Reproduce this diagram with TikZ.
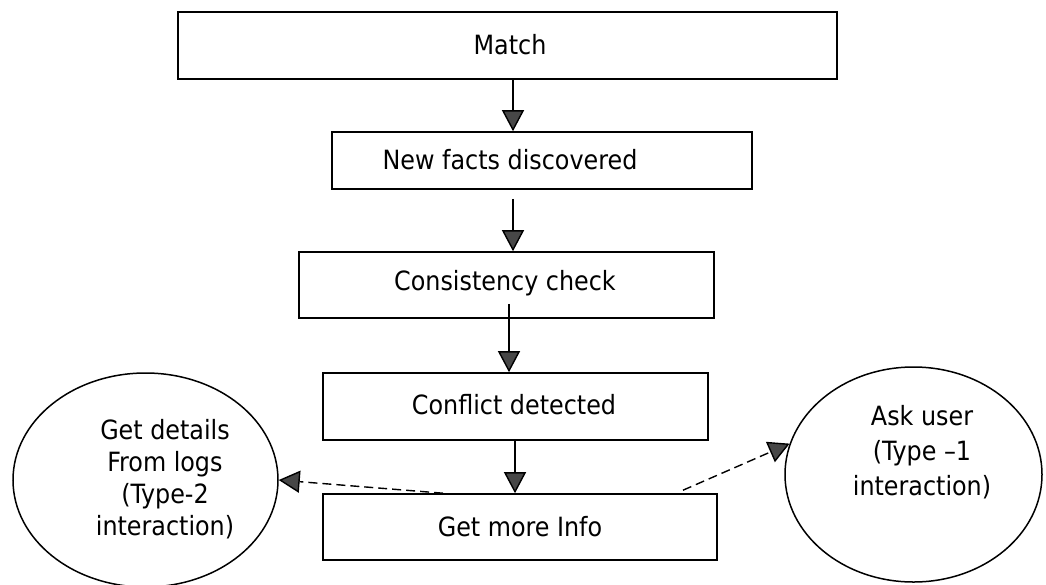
\documentclass[tikz,border=0pt]{standalone}
\usepackage{fontspec}
\setmainfont{DejaVu Sans Condensed}
\usetikzlibrary{arrows.meta,shapes.geometric}

\tikzset{
  box/.style={draw=black, line width=1.6pt, minimum width=#1, inner sep=0pt},
  txt/.style={font=\fontsize{26.5}{32}\selectfont, inner sep=0pt, align=center},
  oval/.style={draw=black, line width=1.5pt, ellipse, inner sep=0pt},
  flow/.style={line width=1.4pt, -{Triangle[width=22pt,length=21pt,fill=black!72]}},
  ask/.style={flow, dash pattern=on 9pt off 5pt},
}

\begin{document}
\begin{tikzpicture}[x=1pt,y=-1pt]
\useasboundingbox (0,0) rectangle (1046,584);

% process boxes
\node[box=659pt, minimum height=67pt] (match) at (507.5,45.5) {};
\node[txt] (matchT) at (510,45) {Match};

\node[box=420pt, minimum height=57pt] (facts) at (542,160.5) {};
\node[txt] (factsT) at (510,160) {New facts discovered};

\node[box=415pt, minimum height=66pt] (cons) at (506.5,285) {};
\node[txt] (consT) at (505,283) {Consistency check};

\node[box=385pt, minimum height=67pt] (conf) at (515.5,406.5) {};
\node[txt] (confT) at (514,405) {Conflict detected};

\node[box=394pt, minimum height=66pt] (more) at (520,527) {};
\node[txt] (moreT) at (520,527) {Get more Info};

% interaction ovals
\node[oval, minimum width=265pt, minimum height=214pt] (logs) at (145.5,480) {};
\node[txt] (logsT) at (165,479) {Get details\\From logs\\(Type-2\\interaction)};

\node[oval, minimum width=257pt, minimum height=215pt] (user) at (913.5,474.5) {};
\node[txt] (userT) at (922,452) {Ask user\\[3pt](Type –1\\[3pt]interaction)};

% main flow
\draw[flow] ([xshift=5.5pt]match.south) -- ([xshift=-29pt]facts.north);
\draw[flow] ([xshift=-29pt,yshift=-9pt]facts.south) -- ([xshift=6.5pt]cons.north);
\draw[flow] ([xshift=2.5pt,yshift=15pt]cons.south) -- ([xshift=-6.5pt]conf.north);
\draw[flow] ([xshift=-0.5pt]conf.south) -- ([xshift=-5pt]more.north);

% requests for more information
\draw[ask] ([xshift=-77pt]more.north) -- (logs.east);
\draw[ask] ([xshift=163pt,yshift=3pt]more.north) -- (user.166);
\end{tikzpicture}
\end{document}
